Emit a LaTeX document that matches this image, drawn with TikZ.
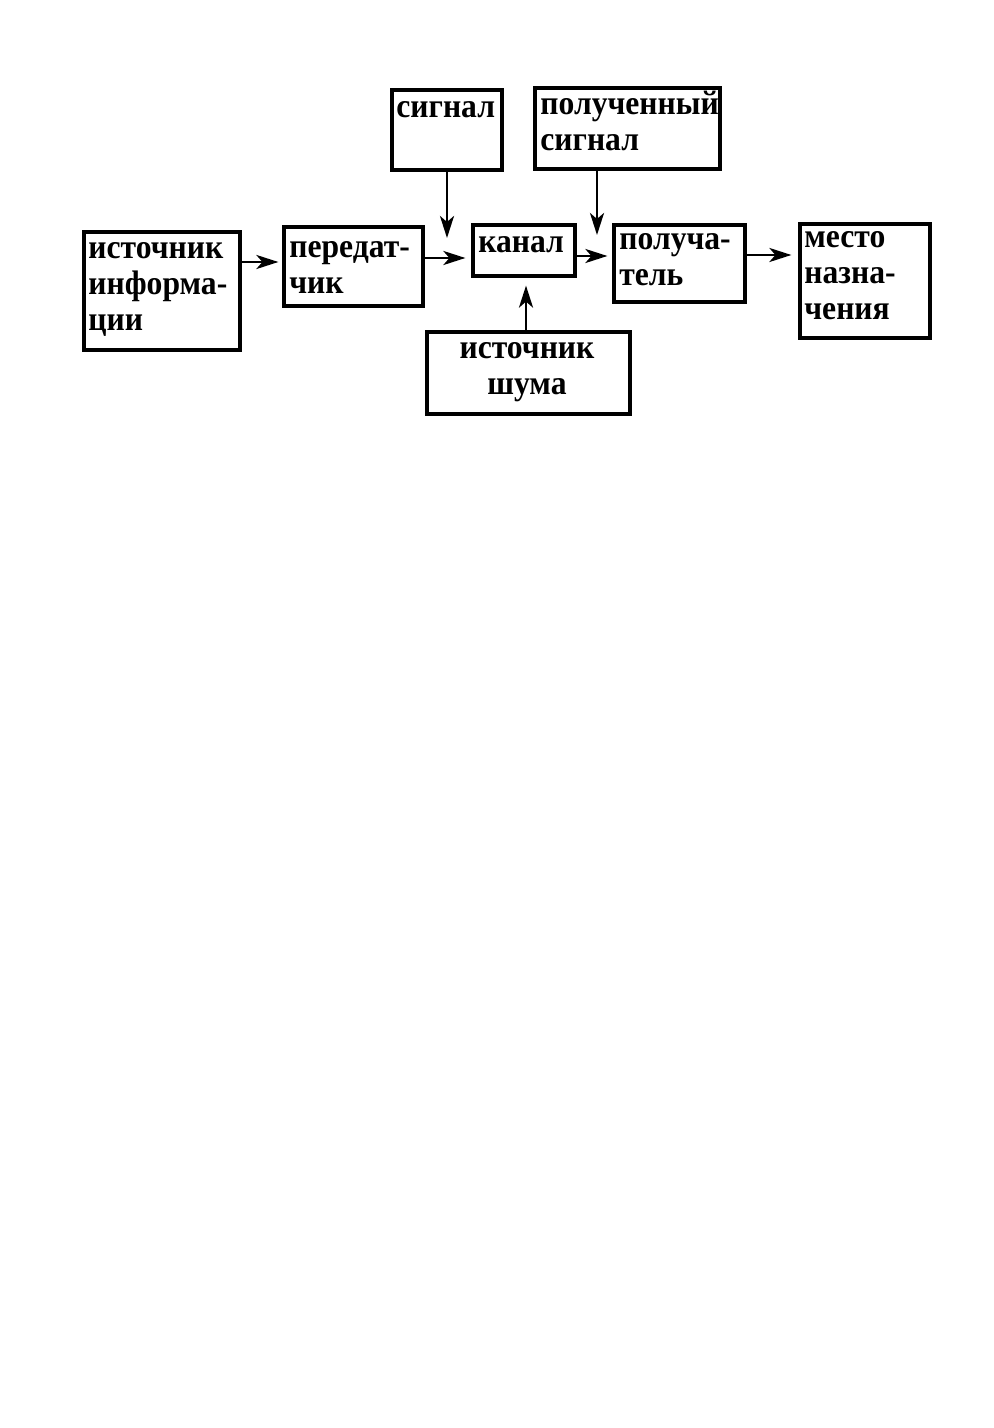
\documentclass[tikz,border=0pt]{standalone}
\usepackage{fontspec}
\setmainfont[FakeStretch=0.93]{Liberation Serif}
\usetikzlibrary{arrows.meta}
\begin{document}
\begin{tikzpicture}[x=0.5pt,y=-0.5pt,
  box/.style={draw, line width=1.6pt, inner sep=0pt, rectangle},
  txt/.style={inner sep=0pt, anchor=base west, text width=#1, align=left,
    font=\bfseries\fontsize{17}{18}\selectfont},
  arr/.style={line width=1.4pt, -{Stealth[length=11pt,width=7pt,inset=3pt]}}]
\fill[white] (0,0) rectangle (993,1428);
\useasboundingbox (0,0) rectangle (993,1428);
% boxes
\node[box, minimum width=78pt, minimum height=59pt] (src) at (162,291) {};
\node[box, minimum width=69.5pt, minimum height=39.5pt] (tx) at (353.5,266.5) {};
\node[box, minimum width=55pt, minimum height=40pt] (sig) at (447,130) {};
\node[box, minimum width=51pt, minimum height=25.5pt] (chan) at (524,250.5) {};
\node[box, minimum width=92.5pt, minimum height=40.5pt] (rsig) at (627.5,128.5) {};
\node[box, minimum width=65.5pt, minimum height=38.5pt] (rcv) at (679.5,263.5) {};
\node[box, minimum width=65pt, minimum height=57pt] (dst) at (865,281) {};
\node[box, minimum width=101.5pt, minimum height=41pt] (noise) at (528.5,373) {};
% texts
\node[txt=75pt] (srcT) at (88,259) {источник\\информа-\\ции};
\node[txt=66pt] (txT) at (289,258) {передат-\\чик};
\node[txt=52pt] (sigT) at (396,118) {сигнал};
\node[txt=48pt] (chanT) at (478,253) {канал};
\node[txt=90pt] (rsigT) at (540,115) {полученный\\сигнал};
\node[txt=62pt] (rcvT) at (619,250) {получа-\\тель};
\node[txt=62pt] (dstT) at (804,248) {место\\назна-\\чения};
\node[inner sep=0pt, anchor=base, text width=100pt, align=center,
  font=\bfseries\fontsize{17}{18}\selectfont] (noiseT) at (527,358) {источник\\шума};
% helper coordinates
\coordinate (y1) at (0,262);
\coordinate (y2) at (0,258);
\coordinate (y3) at (0,256);
\coordinate (y4) at (0,255);
\coordinate (sigEnd) at (447,238);
\coordinate (rsigEnd) at (597,235);
\coordinate (noiseX) at (526,0);
% connectors
\draw[arr] (src.east |- y1) -- ([xshift=-2pt]tx.west |- y1);
\draw[arr] (tx.east |- y2) -- ([xshift=-3pt]chan.west |- y2);
\draw[arr] (chan.east |- y3) -- ([xshift=-2.5pt]rcv.west |- y3);
\draw[arr] (rcv.east |- y4) -- ([xshift=-3.5pt]dst.west |- y4);
\draw[arr] (sig.south) -- (sigEnd);
\draw[arr] (rsigEnd |- rsig.south) -- (rsigEnd);
\draw[arr] (noiseX |- noise.north) -- ([yshift=-4pt]noiseX |- chan.south);
\end{tikzpicture}
\end{document}
